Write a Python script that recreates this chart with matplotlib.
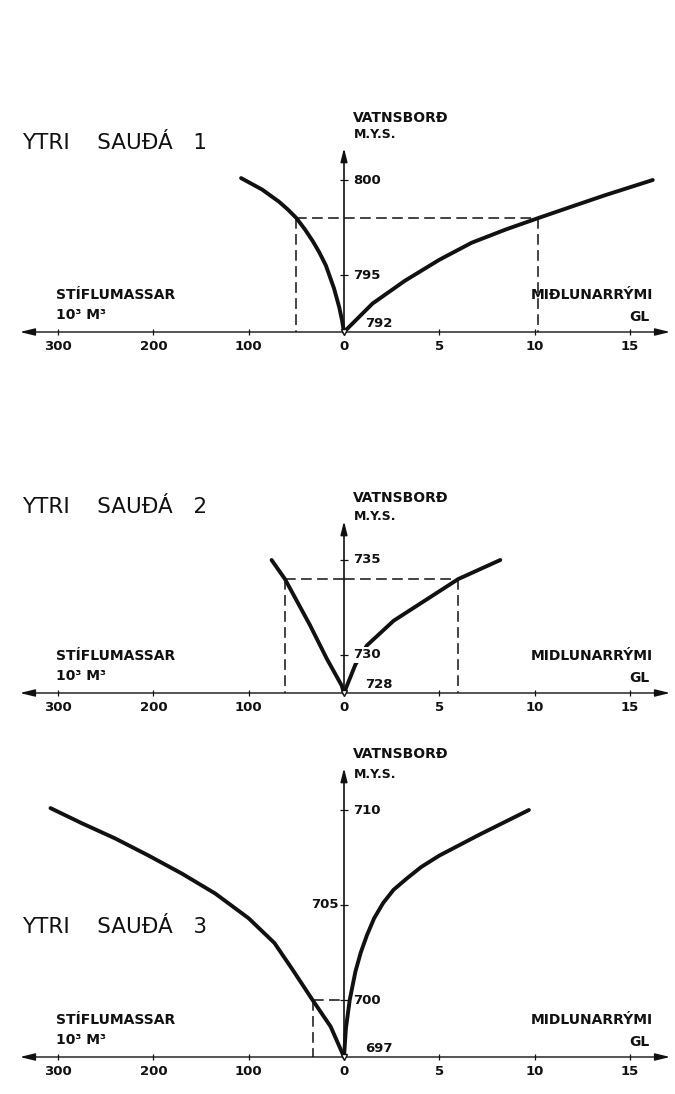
import matplotlib
matplotlib.use("Agg")
import matplotlib.pyplot as plt

# Figure size in pixels
W, H = 675, 1094
DPI = 100

# ---- Ytri Sauðá 1 ----
s1_dam_elev = [792, 792.6, 793.3, 794.3, 795.5, 796.2, 796.8, 797.4, 798,
               798.45, 798.85, 799.5, 800.1]
s1_dam_vol = [0, 2, 5, 10.5, 19, 26, 33, 41, 50, 59, 68, 86, 108]
s1_res_elev = [792, 793.5, 794.7, 795.8, 796.7, 797.4, 798, 798.62, 799.2, 800]
s1_res_vol = [0, 1.5, 3.2, 5.0, 6.7, 8.5, 10.2, 12.0, 13.7, 16.2]
s1_yticks = [800, 795]
s1_base = 792
s1_design = (798, 50, 10.2)

# ---- Ytri Sauðá 2 ----
s2_dam_elev = [728, 728.4, 729.8, 731.6, 734, 735]
s2_dam_vol = [0, 2.5, 18, 36, 62, 76]
s2_res_elev = [728, 729.5, 730.5, 731.8, 732.9, 734, 735]
s2_res_vol = [0, 0.6, 1.2, 2.6, 4.3, 6.0, 8.2]
s2_yticks = [735, 730]
s2_base = 728
s2_design = (734, 62, 6.0)

# ---- Ytri Sauðá 3 ----
s3_dam_elev = [697, 698.6, 700, 701.6, 703.0, 704.3, 705.6, 706.65, 707.6,
               708.5, 709.3, 710.1]
s3_dam_vol = [0, 14, 33, 54, 73, 100, 135, 170, 205, 240, 275, 308]
s3_res_elev = [697, 698.5, 700, 701.5, 702.5, 703.4, 704.3, 705.1, 705.8,
               706.4, 707.0, 707.6, 708.7, 710]
s3_res_vol = [0, 0.1, 0.3, 0.6, 0.88, 1.2, 1.58, 2.05, 2.6, 3.3, 4.05, 5.0,
              7.1, 9.7]
s3_yticks = [710, 705, 700]
s3_base = 697
s3_design = (700, 33, None)

dam_ticks = [100, 200, 300]
res_ticks = [0, 5, 10, 15]
px_per_m = 19.0

plt.rcParams['font.family'] = ['DejaVu Sans']
INK = '#111111'

fig = plt.figure(figsize=(W / DPI, H / DPI), dpi=DPI)

# horizontal extent of the two half-axes (pixels)
X_LEFT, X_ZERO, X_RIGHT = 20, 344, 670
dam_lim = (X_ZERO - X_LEFT) / 0.953
res_lim = (X_RIGHT - X_ZERO) / 19.06


def frac_rect(x0, x1, ytop, ybot):
    return [x0 / W, 1 - ybot / H, (x1 - x0) / W, (ybot - ytop) / H]


def ftext(x, y, s, **kw):
    fig.text(x / W, 1 - y / H, s, color=INK, va='center', **kw)


def panel(axis_px, top_px, title, title_px, base, yticks, left_ticks,
          dam_elev, dam_vol, res_elev, res_vol, design, res_label,
          vat_px, mys_px, white_label=None):
    ytop = base + (axis_px - top_px) / px_per_m
    axl = fig.add_axes(frac_rect(X_LEFT, X_ZERO, top_px, axis_px))
    axr = fig.add_axes(frac_rect(X_ZERO, X_RIGHT, top_px, axis_px))
    for ax in (axl, axr):
        ax.set_ylim(base, ytop)
        for s in ax.spines.values():
            s.set_visible(False)
        ax.patch.set_alpha(0)
        ax.tick_params(axis='x', direction='inout', length=5, width=0.9,
                       pad=3, labelsize=9.5, colors=INK)
    axl.set_xlim(dam_lim, 0)
    axr.set_xlim(0, res_lim)
    axl.set_yticks([])
    axl.set_xticks(dam_ticks)
    axl.set_xticklabels([str(t) for t in dam_ticks], fontweight='bold')
    axr.set_xticks(res_ticks)
    axr.set_xticklabels([str(t) for t in res_ticks], fontweight='bold')
    axr.set_yticks(yticks)
    axr.tick_params(axis='y', direction='inout', length=6, width=0.9,
                    labelleft=False, colors=INK)

    # horizontal axis with arrowheads on both ends
    ap = dict(arrowstyle='-|>,head_length=0.9,head_width=0.22', lw=1.0,
              color=INK, shrinkA=0, shrinkB=0)
    axl.annotate('', xy=(0, 0), xytext=(1, 0), xycoords='axes fraction',
                 textcoords='axes fraction', arrowprops=ap)
    axr.annotate('', xy=(1, 0), xytext=(0, 0), xycoords='axes fraction',
                 textcoords='axes fraction', arrowprops=ap)
    # vertical axis
    apv = dict(arrowstyle='-|>,head_length=0.8,head_width=0.2', lw=1.2,
               color=INK, shrinkA=0, shrinkB=0)
    axr.annotate('', xy=(0, 1), xytext=(0, 0), xycoords='axes fraction',
                 textcoords='axes fraction', arrowprops=apv)

    # curves
    axl.plot(dam_vol, dam_elev, color=INK, lw=2.8, solid_capstyle='round',
             solid_joinstyle='round', clip_on=False, zorder=3)
    axr.plot(res_vol, res_elev, color=INK, lw=2.8, solid_capstyle='round',
             solid_joinstyle='round', clip_on=False, zorder=3)
    axr.plot([0], [base], marker='v', ms=5, mfc='white', mec=INK, mew=1.0,
             clip_on=False, zorder=4)

    # design level guides
    h, v_dam, v_res = design
    dash = dict(color=INK, lw=1.1, dashes=(7, 3.5), clip_on=False, zorder=2)
    axl.plot([v_dam, 0], [h, h], **dash)
    axl.plot([v_dam, v_dam], [h, base], **dash)
    if v_res is not None:
        axr.plot([0, v_res], [h, h], **dash)
        axr.plot([v_res, v_res], [h, base], **dash)

    # elevation labels
    for t in yticks:
        if t in left_ticks:
            axr.annotate(str(t), xy=(0, t), xytext=(-4, 0),
                         textcoords='offset points', ha='right', va='center',
                         fontsize=9.5, fontweight='bold', color=INK)
        else:
            bb = None
            if t == white_label:
                bb = dict(boxstyle='square,pad=0.15', fc='white', ec='none')
            axr.annotate(str(t), xy=(0, t), xytext=(6.5, 0),
                         textcoords='offset points', ha='left', va='center',
                         fontsize=9.5, fontweight='bold', color=INK,
                         bbox=bb, zorder=5)
    axr.annotate(str(base), xy=(0, base), xytext=(15, 1.5),
                 textcoords='offset points', ha='left', va='bottom',
                 fontsize=9.5, fontweight='bold', color=INK)

    # axis captions
    ftext(353, vat_px, 'VATNSBORÐ', fontsize=10, fontweight='bold', ha='left')
    ftext(354, mys_px, 'M.Y.S.', fontsize=9, fontweight='bold', ha='left')
    ftext(56, axis_px - 37, 'STÍFLUMASSAR', fontsize=10, fontweight='bold',
          ha='left')
    ftext(56, axis_px - 17, '10³ M³', fontsize=10, fontweight='bold',
          ha='left')
    ftext(653, axis_px - 37, res_label, fontsize=10, fontweight='bold',
          ha='right')
    ftext(650, axis_px - 15, 'GL', fontsize=10, fontweight='bold', ha='right')
    ftext(22, title_px, title, fontsize=15.5, ha='left')


panel(332, 148, 'YTRI    SAUÐÁ   1', 143, s1_base, s1_yticks, [],
      s1_dam_elev, s1_dam_vol, s1_res_elev, s1_res_vol, s1_design,
      'MIÐLUNARRÝMI', 118, 134)
panel(693, 521, 'YTRI    SAUÐÁ   2', 507, s2_base, s2_yticks, [],
      s2_dam_elev, s2_dam_vol, s2_res_elev, s2_res_vol, s2_design,
      'MIDLUNARRÝMI', 498, 517, white_label=730)
panel(1057, 768, 'YTRI    SAUÐÁ   3', 927, s3_base, s3_yticks, [705],
      s3_dam_elev, s3_dam_vol, s3_res_elev, s3_res_vol, s3_design,
      'MIDLUNARRÝMI', 754, 774)

fig.savefig('out.png', dpi=DPI, facecolor='white')
